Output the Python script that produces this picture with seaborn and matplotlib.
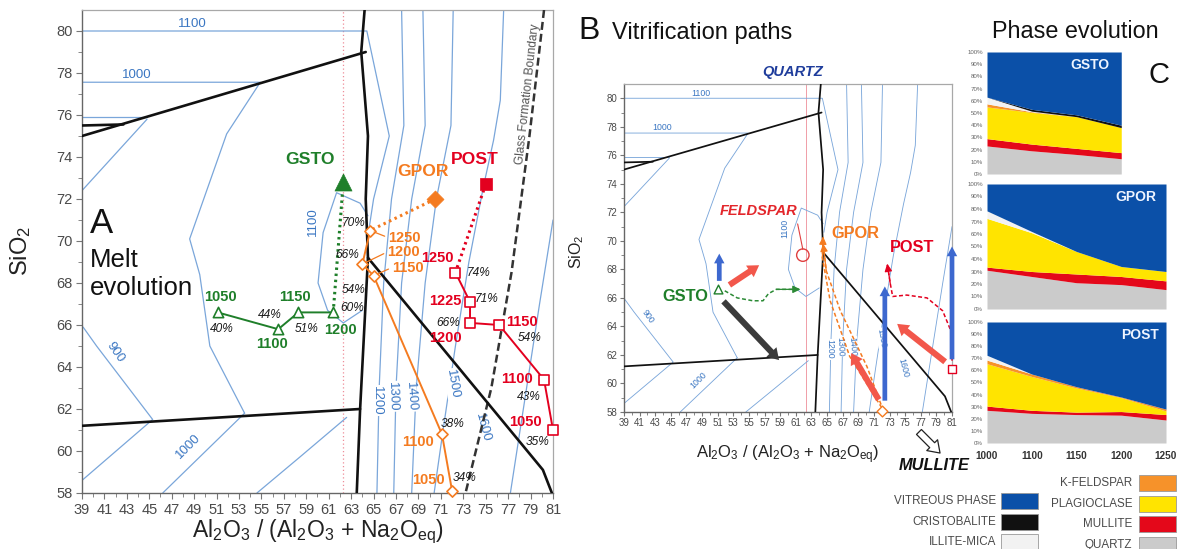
import matplotlib
matplotlib.use("Agg")
import matplotlib.pyplot as plt
from matplotlib import font_manager
from matplotlib.patches import Rectangle, FancyArrowPatch
from matplotlib.ticker import FixedLocator
import numpy as np
import seaborn as sns

sns.set_style("ticks")
_fonts = {f.name for f in font_manager.fontManager.ttflist}
SANS = "Liberation Sans" if "Liberation Sans" in _fonts else "DejaVu Sans"
NARROW = "Liberation Sans Narrow" if "Liberation Sans Narrow" in _fonts else SANS
HAS_NARROW = NARROW != SANS
plt.rcParams["font.family"] = [SANS, "DejaVu Sans"]
plt.rcParams["mathtext.fontset"] = "custom"
plt.rcParams["mathtext.rm"] = SANS
plt.rcParams["mathtext.it"] = SANS + ":italic"
plt.rcParams["mathtext.bf"] = SANS + ":bold"


def nsize(size):
    """Font size for the condensed bold labels."""
    return size if HAS_NARROW else size * 0.84


# ---------------- phase diagram: Al2O3/(Al2O3+Na2Oeq) vs SiO2 ----------------
iso_1100_upper = [(39, 80.0), (64.4, 80.0), (66.4, 75.0), (65.0, 72.0), (64.6, 70.6)]
iso_1000_upper = [(39, 77.56), (54.9, 77.56), (51.9, 75.1), (48.6, 70.1), (49.5, 68.4),
                  (50.4, 65.0), (53.5, 61.8)]
iso_900_upper = [(39, 75.9), (44.8, 75.9)]
iso_900_ramp = [(39, 72.4), (44.8, 75.8)]
iso_900_lower = [(39.1, 65.9), (40.3, 65.0), (45.3, 61.5), (39, 58.6)]
iso_1000_lower = [(53.5, 61.8), (46.2, 58.0)]
iso_1100_lower = [(54.6, 58.0), (58.4, 59.7), (62.6, 61.6)]
iso_1100_loop = [(64.5, 71.2), (63.8, 71.8), (61.7, 72.3), (60.5, 70.4), (60.05, 68.0),
                 (60.9, 66.7), (62.3, 66.1), (64.0, 66.7)]
iso_1200 = [(67.5, 81), (67.7, 75.5), (66.6, 72), (65.9, 68), (65.5, 63), (65.3, 58)]
iso_1300 = [(69.4, 81), (69.6, 75.5), (68.4, 72), (67.5, 68), (67.0, 63), (66.8, 58)]
iso_1400 = [(72.1, 81), (71.9, 75.5), (70.6, 72), (69.6, 68), (68.8, 63), (68.4, 58)]
iso_1500 = [(76.6, 81), (76.3, 76.7), (75.7, 74.8), (74.8, 72.6), (73.5, 69), (72.3, 65),
            (71.2, 61), (70.4, 58)]
iso_1600 = [(77.2, 58), (78.5, 62.5), (79.8, 67), (81, 71)]
isotherms = [iso_1100_upper, iso_1000_upper, iso_900_upper, iso_900_ramp, iso_900_lower,
             iso_1000_lower, iso_1100_lower, iso_1100_loop, iso_1200, iso_1300, iso_1400,
             iso_1500, iso_1600]

iso_label_text = ["1100", "1000", "900", "1000", "1100", "1200", "1300", "1400", "1500", "1600"]
iso_label_al = [48.8, 43.9, 42.0, 48.5, 59.6, 65.3, 66.7, 68.3, 72.0, 74.7]
iso_label_si = [80.0, 77.56, 64.7, 60.2, 70.9, 62.4, 62.6, 62.6, 63.2, 61.1]
iso_label_rot = [0, 0, -55, 45, 90, -90, -88, -86, -80, -75]

bnd_upper = [(39, 75.0), (64.3, 79.0)]
bnd_upper_short = [(39, 75.5), (42.7, 75.55)]
bnd_vertical = [(64.2, 81), (63.9, 79.0), (64.5, 75.0), (64.3, 72.0), (64.5, 69.2),
                (63.8, 62.0), (63.5, 58)]
bnd_lower = [(39, 61.2), (63.8, 62.0)]
bnd_diagonal = [(64.5, 69.2), (80.1, 59.1), (80.9, 58)]
glass_boundary = [(80.2, 81), (78.9, 75), (77.3, 68.5), (75.5, 63), (73.2, 58)]
albite_ratio = 62.3

# ---------------- melt evolution (panel A) ----------------
gsto_temp = ["1050", "1100", "1150", "1200"]
gsto_al = [51.1, 56.5, 58.3, 61.4]
gsto_si = [66.6, 65.8, 66.6, 66.6]
gsto_melt = ["40%", "44%", "51%", "60%"]
gsto_bulk = [62.3, 72.8]

gpor_temp = ["1250", "1200", "1150", "1100", "1050"]
gpor_al = [64.7, 64.0, 65.0, 71.1, 72.0]
gpor_si = [70.5, 68.9, 68.35, 60.8, 58.1]
gpor_melt = ["70%", "66%", "54%", "38%", "34%"]
gpor_bulk = [70.5, 72.0]

post_temp = ["1250", "1225", "1200", "1150", "1100", "1050"]
post_al = [72.3, 73.6, 73.6, 76.2, 80.2, 81.0]
post_si = [68.5, 67.1, 66.1, 66.0, 63.4, 61.0]
post_melt = ["74%", "71%", "66%", "54%", "43%", "35%"]
post_bulk = [75.0, 72.7]

# ---------------- vitrification paths (panel B) ----------------
b_arrow_tail = [(51.2, 67.0), (52.2, 66.8), (51.5, 65.9), (71.8, 58.7), (72.4, 58.6),
                (80.4, 61.4), (81.0, 61.5)]
b_arrow_head = [(51.2, 69.3), (56.6, 68.4), (59.1, 61.5), (67.9, 62.3), (72.4, 67.0),
                (73.7, 64.3), (81.0, 69.8)]
b_arrow_kind = ["glass", "feldspar", "mullite", "feldspar", "glass", "feldspar", "glass"]
gsto_trend = [(51.9, 66.5), (53.5, 66.0), (55.5, 65.8), (56.8, 65.8), (57.5, 66.3),
              (58.5, 66.6), (61.6, 66.6)]
gpor_trend_a = [(72.0, 58.3), (67.9, 61.9), (65.4, 65.8), (64.4, 68.8), (64.5, 70.3)]
gpor_trend_b = [(72.2, 58.1), (70.1, 61.2), (66.7, 65.1), (64.9, 67.9), (64.5, 69.8)]
post_trend = [(81.0, 61.6), (81.0, 63.5), (79.8, 65.1), (77.8, 66.0), (75.2, 66.2),
              (73.4, 66.1), (73.1, 67.0), (72.7, 68.4)]
feldspar_point = [61.9, 69.0]

# ---------------- phase evolution (panel C), wt% ----------------
phase_names = ["QUARTZ", "MULLITE", "PLAGIOCLASE", "K-FELDSPAR", "ILLITE-MICA",
               "CRISTOBALITE", "VITREOUS PHASE"]
phase_colors = ["#cbcbcb", "#e4081a", "#ffe400", "#f6922a", "#f2f2f2", "#111111", "#0b50a8"]
c_temps = ["1000", "1100", "1150", "1200", "1250"]
gsto_phases = [[23, 19, 16, 12.5],
               [6, 5.5, 5, 5],
               [26, 26, 26, 20.5],
               [2.5, 0.5, 0, 0],
               [5.5, 0.5, 0, 0],
               [0, 1.5, 1.5, 2],
               [37, 47, 51.5, 60]]
gpor_phases = [[31, 26, 21, 19.5, 15.5],
               [2.5, 4, 7, 6.5, 7],
               [39, 31, 18, 8, 7.5],
               [0, 0, 0, 0, 0],
               [6, 1, 0, 0, 0],
               [0, 0, 0, 0, 0],
               [21.5, 38, 54, 66, 70]]
post_phases = [[27, 24.5, 23.5, 23, 19],
               [3.5, 2.5, 2, 3, 4.5],
               [35, 28, 20, 11.5, 3],
               [3, 2, 1, 0.5, 1.5],
               [4, 0, 0, 0, 0],
               [0, 0, 0, 0, 0],
               [27.5, 43, 53.5, 62, 72]]

# ---------------- colours ----------------
GREEN = "#1f7f2a"
ORANGE = "#f47b20"
RED = "#e3001f"
ISO = "#7aa6da"
ISO_TXT = "#3a76c2"
PINK = "#ee8d98"
ARROW_COLORS = {"glass": "#3d68cf", "feldspar": "#f2574b", "mullite": "#3b3b3b"}

W, H = 1179, 549
fig = plt.figure(figsize=(W / 100, H / 100), dpi=100)


def box(l, t, r, b):
    return [l / W, 1 - b / H, (r - l) / W, (b - t) / H]


def px_x(x):
    return x / W


def px_y(y):
    return 1 - y / H


def line(ax, pts, color, lw, ls="-", z=2, clip=True):
    xs = [p[0] for p in pts]
    ys = [p[1] for p in pts]
    sns.lineplot(x=xs, y=ys, sort=False, estimator=None, ax=ax, color=color, lw=lw,
                 linestyle=ls, legend=False, zorder=z, clip_on=clip)


def draw_diagram(ax, scale, pink_ls):
    ax.set_xlim(39, 81)
    ax.set_ylim(58, 81)
    for path in isotherms:
        line(ax, path, ISO, 0.8 * scale + 0.1)
    for txt, x, y, r in zip(iso_label_text, iso_label_al, iso_label_si, iso_label_rot):
        flat = r == 0
        ax.text(x, y + (0.05 if flat else 0), txt, rotation=r, rotation_mode="anchor",
                ha="center", va="bottom" if flat else "center", color=ISO_TXT,
                fontsize=9.5 * scale, zorder=3,
                bbox=None if flat else dict(boxstyle="square,pad=0.05", fc="white", ec="none"))
    line(ax, [(albite_ratio, 58), (albite_ratio, 81)], PINK, 0.9 * scale, ls=pink_ls, z=1.5)
    for path in [bnd_upper, bnd_upper_short, bnd_vertical, bnd_lower, bnd_diagonal]:
        line(ax, path, "#111111", 1.9 * scale, z=4)
    ax.xaxis.set_major_locator(FixedLocator(list(range(39, 82, 2))))
    ax.xaxis.set_minor_locator(FixedLocator(list(range(40, 81, 2))))
    ax.yaxis.set_major_locator(FixedLocator(list(range(58, 81, 2))))
    ax.yaxis.set_minor_locator(FixedLocator(list(range(59, 81, 2))))
    ax.tick_params(which="major", length=4.5 * scale, width=0.8, color="#777",
                   labelsize=10.5 * scale, labelcolor="#4a4a4a", pad=2.5 * scale)
    ax.tick_params(which="minor", length=3 * scale, width=0.7, color="#888")
    for side in ["left", "bottom"]:
        ax.spines[side].set_color("#666")
        ax.spines[side].set_linewidth(1.0)
    for side in ["top", "right"]:
        ax.spines[side].set_color("#a8a8a8")
        ax.spines[side].set_linewidth(0.9)
    ax.set_xlabel(r"Al$_2$O$_3$ / (Al$_2$O$_3$ + Na$_2$O$_{\rm eq}$)", fontsize=16.5 * scale,
                  color="#222")
    ax.set_ylabel(r"SiO$_2$", fontsize=17 * scale, color="#222")


# ======================= Panel A =======================
axA = fig.add_axes(box(82, 10, 553, 493))
draw_diagram(axA, 1.0, (0, (1, 2)))
axA.xaxis.set_label_coords(0.5, -0.05)
axA.yaxis.set_label_coords(-0.103, 0.5)
line(axA, glass_boundary, "#333333", 1.8, ls=(0, (3.2, 1.6)), z=3)
axA.text(78.8, 77.0, "Glass Formation Boundary", rotation=83.6, rotation_mode="anchor",
         ha="center", va="center", fontsize=8.6, color="#555")


def label(ax, x, y, text, off, **kw):
    ax.annotate(text, xy=(x, y), xytext=(off[0] * 0.72, off[1] * 0.72),
                textcoords="offset points", ha="center", va="center",
                annotation_clip=False, zorder=7, **kw)


def melt_path(ax, al, si, temps, melts, bulk, color, marker, size, bulk_size,
              temp_off, melt_off, name, name_off, dotted_to, leaders=()):
    line(ax, [(bulk[0], bulk[1]), (al[dotted_to], si[dotted_to])], color, 2.2,
         ls=(0, (0.8, 1.2)), z=4)
    line(ax, list(zip(al, si)), color, 1.4, z=5, clip=False)
    sns.scatterplot(x=al, y=si, marker=marker, s=size, color=color, facecolor="white",
                    edgecolor=color, linewidth=1.2, ax=ax, zorder=6, clip_on=False,
                    legend=False)
    sns.scatterplot(x=[bulk[0]], y=[bulk[1]], marker=marker, s=bulk_size, color=color,
                    edgecolor=color, linewidth=0.5, ax=ax, zorder=6, legend=False)
    for i, (x, y, t, m) in enumerate(zip(al, si, temps, melts)):
        kw = {}
        if i in leaders:
            kw = dict(arrowprops=dict(arrowstyle="-", color=color, lw=0.9, shrinkA=0,
                                      shrinkB=3, relpos=(0, 0.5)))
        label(ax, x, y, t, temp_off[i], color=color, fontsize=nsize(12.5),
              fontweight="bold", family=NARROW, **kw)
        label(ax, x, y, m, melt_off[i], color="#1a1a1a", fontsize=8.6, style="italic")
    label(ax, bulk[0], bulk[1], name, name_off, color=color, fontsize=nsize(15),
          fontweight="bold", family=NARROW)


melt_path(axA, gsto_al, gsto_si, gsto_temp, gsto_melt, gsto_bulk, GREEN, "^", 55, 150,
          [(3, 15), (-6, -15), (-3, 15), (7, -18)],
          [(4, -17), (-8, 14), (8, -17), (19, 4)], "GSTO", (-33, 23), 3)
melt_path(axA, gpor_al, gpor_si, gpor_temp, gpor_melt, gpor_bulk, ORANGE, "D", 32, 75,
          [(34, -7), (41, 12), (34, 8), (-24, -8), (-24, 11)],
          [(-17, 7), (-15, 9), (-20, -14), (11, 10), (13, 13)], "GPOR", (-12, 27), 0,
          leaders=(0, 1, 2))
melt_path(axA, post_al, post_si, post_temp, post_melt, post_bulk, RED, "s", 45, 85,
          [(-18, 15), (-25, 1), (-25, -15), (23, 3), (-27, 1), (-28, 8)],
          [(23, 0), (17, 3), (-22, 0), (30, -13), (-15, -17), (-15, -12)], "POST", (-11, 25), 0)

fig.text(px_x(90), px_y(233), "A", fontsize=25, color="#111", va="baseline")
fig.text(px_x(90), px_y(267), "Melt", fontsize=18.5, color="#111", va="baseline")
fig.text(px_x(90), px_y(295), "evolution", fontsize=18.5, color="#111", va="baseline")

# ======================= Panel B =======================
axB = fig.add_axes(box(624, 84, 952, 412))
draw_diagram(axB, 0.66, "-")
axB.tick_params(which="major", labelsize=7)
axB.set_xlabel(r"Al$_2$O$_3$ / (Al$_2$O$_3$ + Na$_2$O$_{\rm eq}$)", fontsize=12, color="#222")
axB.set_ylabel(r"SiO$_2$", fontsize=11.5, color="#222")
axB.xaxis.set_label_coords(0.5, -0.095)
axB.yaxis.set_label_coords(-0.115, 0.49)

for tail, head, kind in zip(b_arrow_tail, b_arrow_head, b_arrow_kind):
    if kind == "glass":
        style = "simple,head_length=7,head_width=7.5,tail_width=3.4"
    else:
        style = "simple,head_length=8,head_width=10,tail_width=4.4"
    axB.add_patch(FancyArrowPatch(tail, head, arrowstyle=style, mutation_scale=1,
                                  color=ARROW_COLORS[kind], lw=0, zorder=6, clip_on=False))

for path, color in [(gsto_trend, "#2b8a35"), (gpor_trend_a, ORANGE), (gpor_trend_b, ORANGE),
                    (post_trend, RED)]:
    line(axB, path, color, 1.1, ls=(0, (2.6, 1.6)), z=5, clip=False)
    axB.annotate("", xy=path[-1], xytext=path[-2],
                 arrowprops=dict(arrowstyle="-|>,head_length=0.45,head_width=0.22",
                                 color=color, lw=0.9, shrinkA=0, shrinkB=0), zorder=5)

sns.scatterplot(x=[gsto_al[0]], y=[gsto_si[0]], marker="^", s=40, color=GREEN,
                facecolor="white", edgecolor=GREEN, linewidth=1.0, ax=axB, zorder=7, legend=False)
sns.scatterplot(x=[gpor_al[-1]], y=[gpor_si[-1]], marker="D", s=30, color=ORANGE,
                facecolor="white", edgecolor=ORANGE, linewidth=1.0, ax=axB, zorder=7,
                clip_on=False, legend=False)
sns.scatterplot(x=[post_al[-1]], y=[post_si[-1]], marker="s", s=38, color=RED,
                facecolor="white", edgecolor=RED, linewidth=1.0, ax=axB, zorder=7,
                clip_on=False, legend=False)
sns.scatterplot(x=[feldspar_point[0]], y=[feldspar_point[1]], marker="o", s=80, color=RED,
                facecolor="none", edgecolor="#e04040", linewidth=1.0, ax=axB, zorder=7,
                legend=False)
axB.annotate("FELDSPAR", xy=(feldspar_point[0], feldspar_point[1] + 0.4), xytext=(56.3, 72.1),
             ha="center", va="center", color="#e3262b", fontsize=nsize(12.5),
             fontweight="bold", style="italic", family=NARROW,
             arrowprops=dict(arrowstyle="-", color="#e04040", lw=0.8, shrinkA=2, shrinkB=0,
                             relpos=(0.98, 0.0)))
axB.text(46.8, 66.1, "GSTO", ha="center", va="center", color=GREEN, fontsize=nsize(14),
         fontweight="bold", family=NARROW, zorder=8)
axB.text(68.6, 70.5, "GPOR", ha="center", va="center", color=ORANGE, fontsize=nsize(14),
         fontweight="bold", family=NARROW, zorder=8)
axB.text(75.9, 69.5, "POST", ha="center", va="center", color=RED, fontsize=nsize(14),
         fontweight="bold", family=NARROW, zorder=8)

fig.text(px_x(793), px_y(72), "QUARTZ", ha="center", va="center", color="#1f3d9c",
         fontsize=nsize(12.5), fontweight="bold", style="italic", family=NARROW)
fig.text(px_x(934), px_y(466), "MULLITE", ha="center", va="center", color="#111",
         fontsize=nsize(14), fontweight="bold", style="italic", family=NARROW)
fig.add_artist(FancyArrowPatch((px_x(917), px_y(430)), (px_x(942), px_y(455)),
                               transform=fig.transFigure,
                               arrowstyle="simple,head_length=8,head_width=11,tail_width=5",
                               mutation_scale=1, facecolor="white", edgecolor="#222", lw=0.9))

fig.text(px_x(578), px_y(39), "B", fontsize=23, color="#111", va="baseline")
fig.text(px_x(612), px_y(39), "Vitrification paths", fontsize=17, color="#111", va="baseline")

# ======================= Panel C =======================
fig.text(px_x(992), px_y(38), "Phase evolution", fontsize=16.8, color="#111", va="baseline")
fig.text(px_x(1149), px_y(83), "C", fontsize=21, color="#111", va="baseline")

c_boxes = [(987, 52, 1166, 174), (987, 184, 1166, 309), (987, 322, 1166, 443)]
c_data = [gsto_phases, gpor_phases, post_phases]
c_names = ["GSTO", "GPOR", "POST"]
c_name_x = [2.3, 3.32, 3.43]
for i, (bx, rows, name, nx) in enumerate(zip(c_boxes, c_data, c_names, c_name_x)):
    ax = fig.add_axes(box(*bx))
    x = np.arange(len(rows[0]))
    ax.stackplot(x, *rows, colors=phase_colors, linewidth=0)
    ax.set_xlim(0, 4)
    ax.set_ylim(0, 100)
    sns.despine(ax=ax, left=True, bottom=True)
    ax.set_yticks(list(range(0, 101, 10)))
    ax.set_yticklabels([f"{v}%" for v in range(0, 101, 10)])
    ax.tick_params(axis="y", length=0, labelsize=4.4, labelcolor="#666", pad=3)
    if i == 2:
        ax.set_xticks(list(range(len(c_temps))))
        ax.set_xticklabels(c_temps)
        ax.tick_params(axis="x", length=0, labelsize=7.2, labelcolor="#333", pad=6)
        for t in ax.get_xticklabels():
            t.set_fontweight("bold")
    else:
        ax.set_xticks([])
    ax.text(nx, 89.5, name, ha="center", va="center", color="#eef4ff", fontsize=10,
            fontweight="bold")

# legend
legend_left = ["VITREOUS PHASE", "CRISTOBALITE", "ILLITE-MICA"]
legend_right = ["K-FELDSPAR", "PLAGIOCLASE", "MULLITE", "QUARTZ"]
color_of = dict(zip(phase_names, phase_colors))
for names, text_r, box_l, y0 in [(legend_left, 996, 1001, 501), (legend_right, 1132, 1139, 483)]:
    for k, nm in enumerate(names):
        yc = y0 + k * 20.7
        fig.text(px_x(text_r), px_y(yc), nm, ha="right", va="center", fontsize=8.4,
                 color="#4a4a4a")
        fig.add_artist(Rectangle((px_x(box_l), px_y(yc + 8)), 37 / W, 16 / H,
                                 transform=fig.transFigure, facecolor=color_of[nm],
                                 edgecolor="#999", lw=0.6))

fig.savefig("out.png", dpi=100, facecolor="white")
